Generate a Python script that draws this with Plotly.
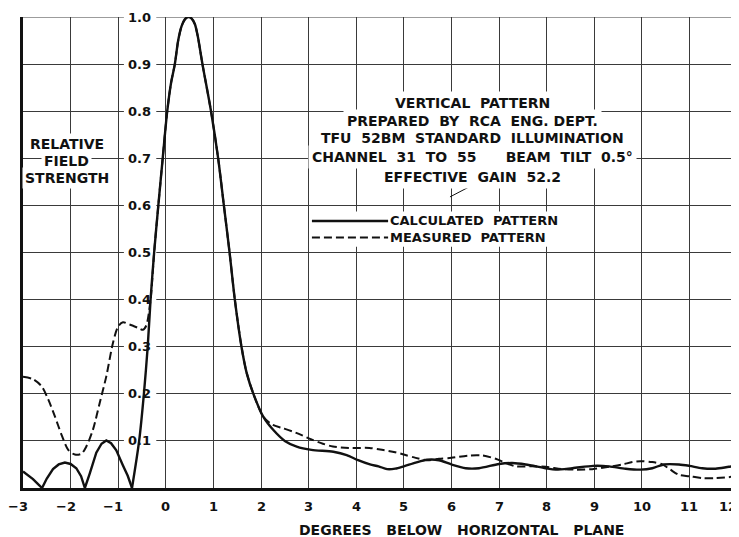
import plotly.graph_objects as go

# ---------------- data ----------------
calc_x = [-3.0, -2.9, -2.79, -2.7, -2.6,
          -2.5, -2.37, -2.25, -2.12, -2.0, -1.88, -1.78, -1.70,
          -1.6, -1.46, -1.35, -1.25, -1.15, -1.04, -0.90, -0.80, -0.71,
          -0.56, -0.46, -0.38, -0.32, -0.245, -0.157, -0.065, 0.03, 0.11, 0.19, 0.26, 0.33,
          0.40, 0.47, 0.54, 0.61, 0.67, 0.77, 0.95, 1.10, 1.22, 1.34, 1.45, 1.59,
          1.70, 1.84, 2.05, 2.26, 2.50, 2.75, 3.06, 3.52, 3.80, 4.04, 4.29,
          4.47, 4.65, 4.82, 5.0, 5.25, 5.49, 5.74, 6.0, 6.30, 6.58, 7.0, 7.28,
          7.56, 7.98, 8.19, 8.54, 8.98, 9.31, 9.66, 9.97, 10.22, 10.46, 10.78,
          11.0, 11.27, 11.55, 11.83, 12.0]
calc_y = [0.035, 0.028, 0.019, 0.010, 0.0,
          0.020, 0.040, 0.050, 0.054, 0.051, 0.042, 0.025, 0.0,
          0.030, 0.075, 0.094, 0.101, 0.095, 0.080, 0.048, 0.026, 0.0,
          0.10, 0.20, 0.30, 0.40, 0.50, 0.60, 0.70, 0.80, 0.86, 0.90, 0.95, 0.98,
          0.995, 1.0, 0.997, 0.985, 0.96, 0.90, 0.80, 0.70, 0.60, 0.50, 0.40, 0.30,
          0.244, 0.20, 0.151, 0.123, 0.10, 0.088, 0.081, 0.077, 0.070, 0.059, 0.050,
          0.046, 0.040, 0.041, 0.046, 0.054, 0.060, 0.059, 0.050, 0.042, 0.042, 0.051, 0.053,
          0.050, 0.042, 0.039, 0.042, 0.047, 0.046, 0.041, 0.039, 0.042, 0.050, 0.050,
          0.047, 0.042, 0.041, 0.045, 0.047]

meas_x = [-3.0, -2.79, -2.61, -2.47, -2.33, -2.19, -2.05, -1.91, -1.77, -1.67,
          -1.53, -1.39, -1.25, -1.11, -1.00, -0.90, -0.76, -0.58, -0.48, -0.41,
          -0.32, -0.245, -0.157, -0.065, 0.03, 0.11, 0.19, 0.26, 0.33, 0.40, 0.47, 0.54,
          0.61, 0.67, 0.77, 0.95, 1.10, 1.22, 1.34, 1.45, 1.59, 1.70, 1.84, 2.05,
          2.25, 2.46, 2.74, 3.06, 3.30, 3.51, 3.86, 4.28, 4.54, 4.82, 5.0, 5.25,
          5.49, 5.74, 6.0, 6.37, 6.65, 6.93, 7.14, 7.35, 7.70, 7.98, 8.33, 8.61,
          8.96, 9.31, 9.59, 9.80, 9.97, 10.22, 10.43, 10.60, 10.78, 11.0, 11.27,
          11.55, 11.83, 12.0]
meas_y = [0.236, 0.231, 0.216, 0.188, 0.152, 0.113, 0.081, 0.071, 0.073, 0.088,
          0.124, 0.180, 0.237, 0.308, 0.343, 0.352, 0.347, 0.340, 0.336, 0.345,
          0.40, 0.50, 0.60, 0.70, 0.80, 0.86, 0.90, 0.95, 0.98, 0.995, 1.0, 0.997,
          0.985, 0.96, 0.90, 0.80, 0.70, 0.60, 0.50, 0.40, 0.30, 0.244, 0.20, 0.151,
          0.134, 0.127, 0.117, 0.103, 0.094, 0.088, 0.085, 0.085, 0.081, 0.076, 0.071, 0.064,
          0.059, 0.062, 0.064, 0.069, 0.069, 0.062, 0.053, 0.046, 0.046, 0.045, 0.040, 0.039,
          0.040, 0.045, 0.050, 0.055, 0.057, 0.055, 0.050, 0.039, 0.028, 0.025, 0.021,
          0.021, 0.023, 0.026]

x_ticks = [-3, -2, -1, 0, 1, 2, 3, 4, 5, 6, 7, 8, 9, 10, 11, 12]
x_tick_text = ["\u22123", "\u22122", "\u22121", "0", "1", "2", "3", "4", "5", "6",
               "7", "8", "9", "10", "11", "12"]
y_ticks = [0.1, 0.2, 0.3, 0.4, 0.5, 0.6, 0.7, 0.8, 0.9, 1.0]
y_tick_text = ["0.1", "0.2", "0.3", "0.4", "0.5", "0.6", "0.7", "0.8", "0.9", "1.0"]

NB = "\u00a0"
title_lines = ["VERTICAL" + NB * 2 + "PATTERN",
               "PREPARED" + NB * 2 + "BY" + NB * 2 + "RCA" + NB * 2 + "ENG." + NB + "DEPT.",
               "TFU" + NB * 2 + "52BM" + NB * 2 + "STANDARD" + NB * 2 + "ILLUMINATION",
               "CHANNEL" + NB * 2 + "31" + NB * 2 + "TO" + NB * 2 + "55" + NB * 6
               + "BEAM" + NB * 2 + "TILT" + NB * 2 + "0.5\u00b0",
               "EFFECTIVE" + NB * 2 + "GAIN" + NB * 2 + "52.2"]
title_y = [0.817, 0.779, 0.743, 0.703, 0.660]
ylabel_lines = ["RELATIVE", "FIELD", "STRENGTH"]
ylabel_y = [0.731, 0.694, 0.658]
legend_names = ["CALCULATED" + NB * 2 + "PATTERN", "MEASURED" + NB * 2 + "PATTERN"]
legend_y = [0.567, 0.532]
x_title = "DEGREES" + NB * 3 + "BELOW" + NB * 3 + "HORIZONTAL" + NB * 3 + "PLANE"

INK = "#111111"
GRID = "#3a3a3a"
FONT = "DejaVu Sans"

# ---------------- figure ----------------
split = calc_x.index(-0.71)
fig = go.Figure()
fig.add_trace(go.Scatter(x=calc_x[:split + 1], y=calc_y[:split + 1], mode="lines",
                         line=dict(color=INK, width=2.4), showlegend=False))
fig.add_trace(go.Scatter(x=calc_x[split:], y=calc_y[split:], mode="lines",
                         line=dict(color=INK, width=2.4, shape="spline", smoothing=0.8),
                         showlegend=False))
fig.add_trace(go.Scatter(x=meas_x, y=meas_y, mode="lines",
                         line=dict(color=INK, width=2.0, dash="8px,4px",
                                   shape="spline", smoothing=0.8),
                         showlegend=False))

# page body has an 8px margin, so the figure is 8px smaller than the window
fig.update_layout(
    width=731, height=529,
    margin=dict(l=15, r=2, t=9, b=49),
    paper_bgcolor="white", plot_bgcolor="white",
    font=dict(family=FONT, color=INK, size=13),
    xaxis=dict(range=[-3, 12], tickvals=x_ticks, showticklabels=False, ticks="",
               showgrid=True, gridcolor=GRID, gridwidth=1, zeroline=False,
               showline=True, linecolor=INK, linewidth=2.5),
    yaxis=dict(range=[0, 1], tickvals=y_ticks, showticklabels=False, ticks="",
               showgrid=True, gridcolor=GRID, gridwidth=1, zeroline=False,
               showline=True, linecolor=INK, linewidth=2.5),
)

shapes = [
    dict(type="line", xref="x", yref="y", x0=-3, x1=12, y0=1, y1=1,
         line=dict(color=GRID, width=1), layer="below"),
    dict(type="line", xref="x", yref="y", x0=12, x1=12, y0=0, y1=1,
         line=dict(color=GRID, width=1), layer="below"),
    dict(type="rect", xref="x", yref="y", x0=-0.88, x1=-0.2, y0=0.05, y1=1.0,
         fillcolor="white", line=dict(width=0), layer="between"),
    dict(type="rect", xref="x", yref="y", x0=3.05, x1=8.7, y0=0.512, y1=0.587,
         fillcolor="white", line=dict(width=0), layer="between"),
    dict(type="line", xref="x", yref="y", x0=3.07, x1=4.67, y0=legend_y[0], y1=legend_y[0],
         line=dict(color=INK, width=2.4)),
    dict(type="line", xref="x", yref="y", x0=3.07, x1=4.67, y0=legend_y[1], y1=legend_y[1],
         line=dict(color=INK, width=2.0, dash="8px,4px")),
    dict(type="line", xref="x", yref="y", x0=5.97, x1=6.67, y0=0.618, y1=0.655,
         line=dict(color=INK, width=1)),
]
fig.update_layout(shapes=shapes)

ann = []
for v, t in zip(x_ticks, x_tick_text):
    anchor, shift = "center", 0
    if v < 0:
        shift = -5
    if v == x_ticks[-1]:
        anchor, shift = "right", 2
    ann.append(dict(x=v, y=0, xref="x", yref="paper", text=t, showarrow=False,
                    xanchor=anchor, yanchor="middle", yshift=-18, xshift=shift,
                    font=dict(family=FONT, size=13, weight="bold", color=INK)))
for v, t in zip(y_ticks, y_tick_text):
    ann.append(dict(x=-0.27, y=v, xref="x", yref="y", text=t, showarrow=False,
                    xanchor="right", yanchor="middle",
                    font=dict(family=FONT, size=13, weight="bold", color=INK)))
for yy, t in zip(title_y, title_lines):
    ann.append(dict(x=6.45, y=yy, xref="x", yref="y", text=t, showarrow=False,
                    xanchor="center", yanchor="middle", bgcolor="white", borderpad=3,
                    font=dict(family=FONT, size=14, weight="bold", color=INK)))
for yy, t in zip(ylabel_y, ylabel_lines):
    ann.append(dict(x=-2.08, y=yy, xref="x", yref="y", text=t, showarrow=False,
                    xanchor="center", yanchor="middle", bgcolor="white", borderpad=2,
                    font=dict(family=FONT, size=14, weight="bold", color=INK)))
for yy, t in zip(legend_y, legend_names):
    ann.append(dict(x=4.69, y=yy, xref="x", yref="y", text=t, showarrow=False,
                    xanchor="left", yanchor="middle", borderpad=0,
                    font=dict(family=FONT, size=13, weight="bold", color=INK)))
ann.append(dict(x=6.22, y=0, xref="x", yref="paper", text=x_title,
                showarrow=False, xanchor="center", yanchor="middle", yshift=-42,
                font=dict(family=FONT, size=14, weight="bold", color=INK)))
fig.update_layout(annotations=ann)

fig.write_html("out.html")
